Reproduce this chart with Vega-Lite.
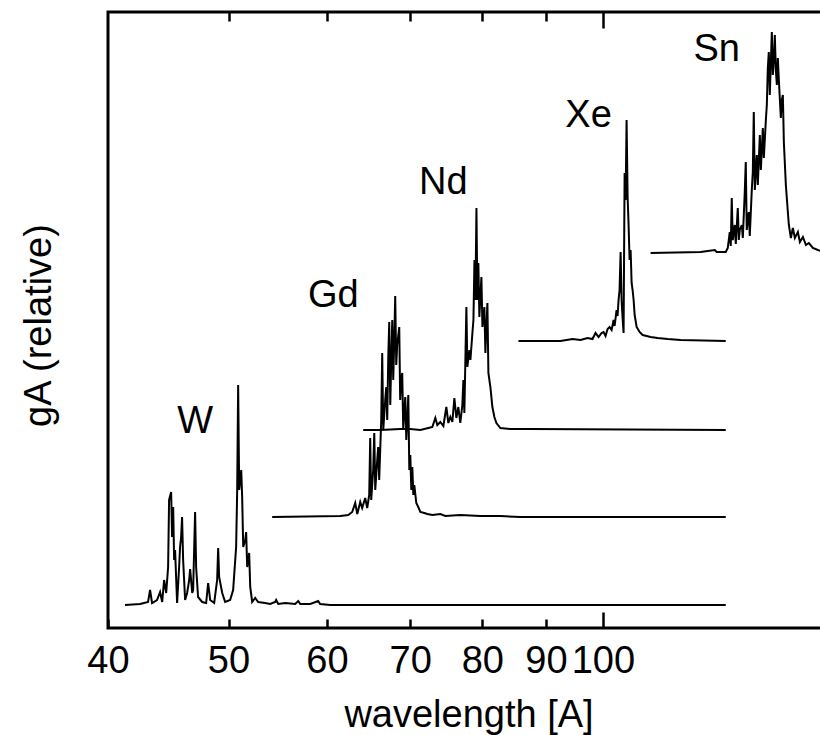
{
  "$schema": "https://vega.github.io/schema/vega-lite/v6.json",
  "width": 721,
  "height": 616,
  "autosize": {"type": "none"},
  "padding": {"left": 108, "top": 12, "right": 0, "bottom": 107},
  "background": "white",
  "config": {
    "view": {"stroke": "black", "strokeWidth": 3},
    "font": "Liberation Sans",
    "axis": {"grid": false}
  },
  "datasets": {
    "spectra": [
      {"element":"W","wavelength":41.28,"gA":23},{"element":"W","wavelength":42.45,"gA":24},{"element":"W","wavelength":43.08,"gA":26},{"element":"W","wavelength":43.24,"gA":38},{"element":"W","wavelength":43.40,"gA":25},{"element":"W","wavelength":43.80,"gA":28},{"element":"W","wavelength":44.05,"gA":36},{"element":"W","wavelength":44.22,"gA":26},{"element":"W","wavelength":44.38,"gA":48},{"element":"W","wavelength":44.55,"gA":35},{"element":"W","wavelength":44.71,"gA":61},{"element":"W","wavelength":44.79,"gA":128},{"element":"W","wavelength":44.96,"gA":136},{"element":"W","wavelength":45.04,"gA":91},{"element":"W","wavelength":45.13,"gA":121},{"element":"W","wavelength":45.21,"gA":68},{"element":"W","wavelength":45.29,"gA":78},{"element":"W","wavelength":45.46,"gA":25},{"element":"W","wavelength":45.63,"gA":61},{"element":"W","wavelength":45.71,"gA":81},{"element":"W","wavelength":45.80,"gA":91},{"element":"W","wavelength":45.88,"gA":111},{"element":"W","wavelength":45.97,"gA":68},{"element":"W","wavelength":46.14,"gA":28},{"element":"W","wavelength":46.31,"gA":35},{"element":"W","wavelength":46.49,"gA":48},{"element":"W","wavelength":46.57,"gA":59},{"element":"W","wavelength":46.75,"gA":35},{"element":"W","wavelength":46.83,"gA":38},{"element":"W","wavelength":47.00,"gA":116},{"element":"W","wavelength":47.09,"gA":61},{"element":"W","wavelength":47.26,"gA":31},{"element":"W","wavelength":47.62,"gA":26},{"element":"W","wavelength":47.97,"gA":25},{"element":"W","wavelength":48.15,"gA":45},{"element":"W","wavelength":48.33,"gA":28},{"element":"W","wavelength":48.69,"gA":25},{"element":"W","wavelength":48.96,"gA":48},{"element":"W","wavelength":49.05,"gA":80},{"element":"W","wavelength":49.14,"gA":51},{"element":"W","wavelength":49.42,"gA":35},{"element":"W","wavelength":49.69,"gA":26},{"element":"W","wavelength":50.15,"gA":28},{"element":"W","wavelength":50.43,"gA":38},{"element":"W","wavelength":50.71,"gA":81},{"element":"W","wavelength":50.81,"gA":138},{"element":"W","wavelength":50.90,"gA":243},{"element":"W","wavelength":51.00,"gA":138},{"element":"W","wavelength":51.19,"gA":158},{"element":"W","wavelength":51.28,"gA":131},{"element":"W","wavelength":51.38,"gA":81},{"element":"W","wavelength":51.57,"gA":88},{"element":"W","wavelength":51.66,"gA":96},{"element":"W","wavelength":51.76,"gA":61},{"element":"W","wavelength":51.95,"gA":75},{"element":"W","wavelength":52.05,"gA":41},{"element":"W","wavelength":52.24,"gA":26},{"element":"W","wavelength":52.53,"gA":30},{"element":"W","wavelength":52.82,"gA":26},{"element":"W","wavelength":53.51,"gA":25},{"element":"W","wavelength":54.01,"gA":24},{"element":"W","wavelength":54.51,"gA":26},{"element":"W","wavelength":54.61,"gA":28},{"element":"W","wavelength":54.82,"gA":24},{"element":"W","wavelength":55.54,"gA":25},{"element":"W","wavelength":56.57,"gA":24},{"element":"W","wavelength":56.89,"gA":27},{"element":"W","wavelength":57.10,"gA":24},{"element":"W","wavelength":58.17,"gA":24},{"element":"W","wavelength":59.03,"gA":27},{"element":"W","wavelength":59.25,"gA":24},{"element":"W","wavelength":60.36,"gA":23},{"element":"W","wavelength":62.64,"gA":23},{"element":"W","wavelength":125.55,"gA":23},

      {"element":"Gd","wavelength":54.21,"gA":111},{"element":"Gd","wavelength":61.49,"gA":112},{"element":"Gd","wavelength":62.41,"gA":113},{"element":"Gd","wavelength":62.87,"gA":116},{"element":"Gd","wavelength":63.22,"gA":125},{"element":"Gd","wavelength":63.46,"gA":114},{"element":"Gd","wavelength":63.81,"gA":126},{"element":"Gd","wavelength":64.04,"gA":120},{"element":"Gd","wavelength":64.40,"gA":130},{"element":"Gd","wavelength":64.64,"gA":120},{"element":"Gd","wavelength":64.88,"gA":133},{"element":"Gd","wavelength":65.00,"gA":190},{"element":"Gd","wavelength":65.12,"gA":128},{"element":"Gd","wavelength":65.36,"gA":158},{"element":"Gd","wavelength":65.49,"gA":195},{"element":"Gd","wavelength":65.61,"gA":138},{"element":"Gd","wavelength":65.85,"gA":168},{"element":"Gd","wavelength":65.97,"gA":181},{"element":"Gd","wavelength":66.09,"gA":148},{"element":"Gd","wavelength":66.34,"gA":208},{"element":"Gd","wavelength":66.46,"gA":275},{"element":"Gd","wavelength":66.59,"gA":198},{"element":"Gd","wavelength":66.83,"gA":228},{"element":"Gd","wavelength":66.96,"gA":241},{"element":"Gd","wavelength":67.08,"gA":208},{"element":"Gd","wavelength":67.21,"gA":271},{"element":"Gd","wavelength":67.33,"gA":306},{"element":"Gd","wavelength":67.46,"gA":223},{"element":"Gd","wavelength":67.58,"gA":268},{"element":"Gd","wavelength":67.71,"gA":308},{"element":"Gd","wavelength":67.83,"gA":248},{"element":"Gd","wavelength":67.96,"gA":288},{"element":"Gd","wavelength":68.08,"gA":332},{"element":"Gd","wavelength":68.21,"gA":263},{"element":"Gd","wavelength":68.33,"gA":283},{"element":"Gd","wavelength":68.59,"gA":301},{"element":"Gd","wavelength":68.71,"gA":228},{"element":"Gd","wavelength":68.84,"gA":248},{"element":"Gd","wavelength":68.97,"gA":255},{"element":"Gd","wavelength":69.10,"gA":198},{"element":"Gd","wavelength":69.23,"gA":218},{"element":"Gd","wavelength":69.36,"gA":231},{"element":"Gd","wavelength":69.49,"gA":188},{"element":"Gd","wavelength":69.62,"gA":208},{"element":"Gd","wavelength":69.75,"gA":233},{"element":"Gd","wavelength":69.88,"gA":158},{"element":"Gd","wavelength":70.01,"gA":173},{"element":"Gd","wavelength":70.14,"gA":138},{"element":"Gd","wavelength":70.27,"gA":161},{"element":"Gd","wavelength":70.40,"gA":133},{"element":"Gd","wavelength":70.53,"gA":143},{"element":"Gd","wavelength":70.79,"gA":125},{"element":"Gd","wavelength":71.05,"gA":121},{"element":"Gd","wavelength":71.32,"gA":116},{"element":"Gd","wavelength":71.85,"gA":115},{"element":"Gd","wavelength":72.25,"gA":114},{"element":"Gd","wavelength":72.92,"gA":113},{"element":"Gd","wavelength":74.01,"gA":114},{"element":"Gd","wavelength":74.70,"gA":112},{"element":"Gd","wavelength":76.80,"gA":113},{"element":"Gd","wavelength":79.70,"gA":112},{"element":"Gd","wavelength":82.72,"gA":112},{"element":"Gd","wavelength":85.85,"gA":111},{"element":"Gd","wavelength":125.55,"gA":111},

      {"element":"Nd","wavelength":64.16,"gA":198},{"element":"Nd","wavelength":66.22,"gA":198},{"element":"Nd","wavelength":68.71,"gA":199},{"element":"Nd","wavelength":70.01,"gA":199},{"element":"Nd","wavelength":71.32,"gA":198},{"element":"Nd","wavelength":72.38,"gA":200},{"element":"Nd","wavelength":72.92,"gA":201},{"element":"Nd","wavelength":73.33,"gA":210},{"element":"Nd","wavelength":73.60,"gA":203},{"element":"Nd","wavelength":74.01,"gA":206},{"element":"Nd","wavelength":74.43,"gA":202},{"element":"Nd","wavelength":74.84,"gA":221},{"element":"Nd","wavelength":75.12,"gA":205},{"element":"Nd","wavelength":75.40,"gA":211},{"element":"Nd","wavelength":75.68,"gA":206},{"element":"Nd","wavelength":75.96,"gA":230},{"element":"Nd","wavelength":76.24,"gA":210},{"element":"Nd","wavelength":76.52,"gA":221},{"element":"Nd","wavelength":76.80,"gA":205},{"element":"Nd","wavelength":77.09,"gA":223},{"element":"Nd","wavelength":77.24,"gA":248},{"element":"Nd","wavelength":77.38,"gA":215},{"element":"Nd","wavelength":77.67,"gA":321},{"element":"Nd","wavelength":77.81,"gA":261},{"element":"Nd","wavelength":78.10,"gA":278},{"element":"Nd","wavelength":78.25,"gA":268},{"element":"Nd","wavelength":78.54,"gA":295},{"element":"Nd","wavelength":78.69,"gA":308},{"element":"Nd","wavelength":78.84,"gA":368},{"element":"Nd","wavelength":78.98,"gA":328},{"element":"Nd","wavelength":79.13,"gA":420},{"element":"Nd","wavelength":79.27,"gA":328},{"element":"Nd","wavelength":79.41,"gA":365},{"element":"Nd","wavelength":79.56,"gA":311},{"element":"Nd","wavelength":79.86,"gA":351},{"element":"Nd","wavelength":80.01,"gA":301},{"element":"Nd","wavelength":80.30,"gA":321},{"element":"Nd","wavelength":80.45,"gA":275},{"element":"Nd","wavelength":80.75,"gA":325},{"element":"Nd","wavelength":80.90,"gA":255},{"element":"Nd","wavelength":81.20,"gA":241},{"element":"Nd","wavelength":81.50,"gA":221},{"element":"Nd","wavelength":81.80,"gA":211},{"element":"Nd","wavelength":82.11,"gA":205},{"element":"Nd","wavelength":82.72,"gA":200},{"element":"Nd","wavelength":84.26,"gA":199},{"element":"Nd","wavelength":87.45,"gA":199},{"element":"Nd","wavelength":125.55,"gA":198},

      {"element":"Xe","wavelength":85.53,"gA":287},{"element":"Xe","wavelength":92.45,"gA":287},{"element":"Xe","wavelength":94.54,"gA":289},{"element":"Xe","wavelength":95.95,"gA":288},{"element":"Xe","wavelength":97.20,"gA":290},{"element":"Xe","wavelength":98.10,"gA":289},{"element":"Xe","wavelength":98.65,"gA":295},{"element":"Xe","wavelength":99.21,"gA":291},{"element":"Xe","wavelength":99.76,"gA":295},{"element":"Xe","wavelength":100.13,"gA":296},{"element":"Xe","wavelength":100.50,"gA":292},{"element":"Xe","wavelength":100.88,"gA":299},{"element":"Xe","wavelength":101.25,"gA":301},{"element":"Xe","wavelength":101.63,"gA":298},{"element":"Xe","wavelength":102.01,"gA":308},{"element":"Xe","wavelength":102.20,"gA":302},{"element":"Xe","wavelength":102.57,"gA":318},{"element":"Xe","wavelength":102.76,"gA":312},{"element":"Xe","wavelength":102.95,"gA":328},{"element":"Xe","wavelength":103.14,"gA":338},{"element":"Xe","wavelength":103.34,"gA":376},{"element":"Xe","wavelength":103.53,"gA":328},{"element":"Xe","wavelength":103.72,"gA":310},{"element":"Xe","wavelength":103.91,"gA":295},{"element":"Xe","wavelength":104.11,"gA":455},{"element":"Xe","wavelength":104.30,"gA":428},{"element":"Xe","wavelength":104.49,"gA":508},{"element":"Xe","wavelength":104.69,"gA":431},{"element":"Xe","wavelength":104.88,"gA":403},{"element":"Xe","wavelength":105.07,"gA":368},{"element":"Xe","wavelength":105.27,"gA":378},{"element":"Xe","wavelength":105.47,"gA":345},{"element":"Xe","wavelength":105.66,"gA":338},{"element":"Xe","wavelength":105.86,"gA":328},{"element":"Xe","wavelength":106.06,"gA":313},{"element":"Xe","wavelength":106.45,"gA":301},{"element":"Xe","wavelength":107.04,"gA":296},{"element":"Xe","wavelength":107.64,"gA":293},{"element":"Xe","wavelength":108.44,"gA":292},{"element":"Xe","wavelength":109.24,"gA":291},{"element":"Xe","wavelength":110.68,"gA":290},{"element":"Xe","wavelength":112.75,"gA":289},{"element":"Xe","wavelength":115.50,"gA":288},{"element":"Xe","wavelength":125.55,"gA":287},

      {"element":"Sn","wavelength":109.24,"gA":375},{"element":"Sn","wavelength":119.86,"gA":376},{"element":"Sn","wavelength":123.02,"gA":378},{"element":"Sn","wavelength":123.47,"gA":376},{"element":"Sn","wavelength":125.55,"gA":376},{"element":"Sn","wavelength":126.02,"gA":380},{"element":"Sn","wavelength":126.48,"gA":396},{"element":"Sn","wavelength":126.72,"gA":382},{"element":"Sn","wavelength":126.95,"gA":430},{"element":"Sn","wavelength":127.19,"gA":388},{"element":"Sn","wavelength":127.66,"gA":403},{"element":"Sn","wavelength":127.90,"gA":384},{"element":"Sn","wavelength":128.38,"gA":420},{"element":"Sn","wavelength":128.62,"gA":388},{"element":"Sn","wavelength":128.86,"gA":398},{"element":"Sn","wavelength":129.34,"gA":403},{"element":"Sn","wavelength":129.58,"gA":390},{"element":"Sn","wavelength":130.05,"gA":436},{"element":"Sn","wavelength":130.29,"gA":466},{"element":"Sn","wavelength":130.53,"gA":398},{"element":"Sn","wavelength":131.02,"gA":416},{"element":"Sn","wavelength":131.26,"gA":392},{"element":"Sn","wavelength":131.75,"gA":438},{"element":"Sn","wavelength":132.00,"gA":456},{"element":"Sn","wavelength":132.24,"gA":516},{"element":"Sn","wavelength":132.49,"gA":438},{"element":"Sn","wavelength":132.98,"gA":473},{"element":"Sn","wavelength":133.23,"gA":443},{"element":"Sn","wavelength":133.73,"gA":493},{"element":"Sn","wavelength":133.98,"gA":458},{"element":"Sn","wavelength":134.47,"gA":500},{"element":"Sn","wavelength":134.72,"gA":470},{"element":"Sn","wavelength":135.23,"gA":508},{"element":"Sn","wavelength":135.47,"gA":523},{"element":"Sn","wavelength":135.72,"gA":560},{"element":"Sn","wavelength":135.97,"gA":576},{"element":"Sn","wavelength":136.22,"gA":533},{"element":"Sn","wavelength":136.73,"gA":596},{"element":"Sn","wavelength":136.99,"gA":553},{"element":"Sn","wavelength":137.24,"gA":568},{"element":"Sn","wavelength":137.49,"gA":593},{"element":"Sn","wavelength":137.75,"gA":558},{"element":"Sn","wavelength":138.01,"gA":543},{"element":"Sn","wavelength":138.26,"gA":570},{"element":"Sn","wavelength":138.52,"gA":548},{"element":"Sn","wavelength":139.03,"gA":510},{"element":"Sn","wavelength":139.29,"gA":528},{"element":"Sn","wavelength":139.55,"gA":533},{"element":"Sn","wavelength":139.81,"gA":486},{"element":"Sn","wavelength":140.33,"gA":443},{"element":"Sn","wavelength":140.85,"gA":416},{"element":"Sn","wavelength":141.11,"gA":403},{"element":"Sn","wavelength":141.64,"gA":390},{"element":"Sn","wavelength":142.16,"gA":400},{"element":"Sn","wavelength":142.69,"gA":390},{"element":"Sn","wavelength":143.49,"gA":396},{"element":"Sn","wavelength":144.02,"gA":386},{"element":"Sn","wavelength":144.83,"gA":391},{"element":"Sn","wavelength":145.64,"gA":383},{"element":"Sn","wavelength":146.44,"gA":385},{"element":"Sn","wavelength":147.53,"gA":380},{"element":"Sn","wavelength":148.90,"gA":378},{"element":"Sn","wavelength":149.73,"gA":377},{"element":"Sn","wavelength":151.41,"gA":376}
    ],
    "labels": [
      {"label": "W", "wavelength": 47.00, "gA": 206},
      {"label": "Gd", "wavelength": 60.70, "gA": 332},
      {"label": "Nd", "wavelength": 74.43, "gA": 445},
      {"label": "Xe", "wavelength": 97.38, "gA": 512},
      {"label": "Sn", "wavelength": 123.47, "gA": 578}
    ]
  },
  "layer": [
    {
      "data": {"name": "spectra"},
      "mark": {"type": "line", "color": "black", "strokeWidth": 2, "clip": true, "interpolate": "linear"},
      "encoding": {
        "x": {
          "field": "wavelength", "type": "quantitative",
          "scale": {"type": "log", "domain": [40, 152], "nice": false},
          "axis": {
            "orient": "bottom",
            "values": [40, 50, 60, 70, 80, 90, 100],
            "format": "d",
            "domain": false,
            "grid": false,
            "tickColor": "black",
            "tickWidth": 2.5,
            "tickSize": {"condition": {"test": "datum.value == 100", "value": -16}, "value": -9},
            "labelPadding": {"condition": {"test": "datum.value == 100", "value": 30}, "value": 23},
            "labelFontSize": 38,
            "labelColor": "black",
            "labelFlush": false,
            "labelOverlap": false,
            "labelBound": false,
            "title": "wavelength [A]",
            "titleFontSize": 38,
            "titleFontWeight": "normal",
            "titleColor": "black",
            "titleBaseline": "alphabetic",
            "titleY": 98
          }
        },
        "y": {
          "field": "gA", "type": "quantitative",
          "scale": {"domain": [0, 616], "nice": false},
          "axis": {
            "orient": "left",
            "labels": false,
            "ticks": false,
            "domain": false,
            "grid": false,
            "title": "gA (relative)",
            "titleFontSize": 38,
            "titleFontWeight": "normal",
            "titleColor": "black",
            "titleAngle": 270,
            "titleAlign": "center",
            "titleBaseline": "alphabetic",
            "titleX": -58,
            "titleY": 313
          }
        },
        "detail": {"field": "element", "type": "nominal"}
      }
    },
    {
      "data": {"name": "labels"},
      "mark": {"type": "text", "fontSize": 38, "color": "black", "align": "center", "baseline": "middle"},
      "encoding": {
        "x": {
          "field": "wavelength", "type": "quantitative",
          "axis": {
            "orient": "top",
            "values": [50, 60, 70, 80, 90, 100],
            "labels": false,
            "domain": false,
            "grid": false,
            "title": null,
            "tickColor": "black",
            "tickWidth": 2.5,
            "tickSize": {"condition": {"test": "datum.value == 100", "value": -16}, "value": -9}
          }
        },
        "y": {"field": "gA", "type": "quantitative"},
        "text": {"field": "label", "type": "nominal"}
      }
    }
  ],
  "resolve": {"axis": {"x": "independent"}}
}
